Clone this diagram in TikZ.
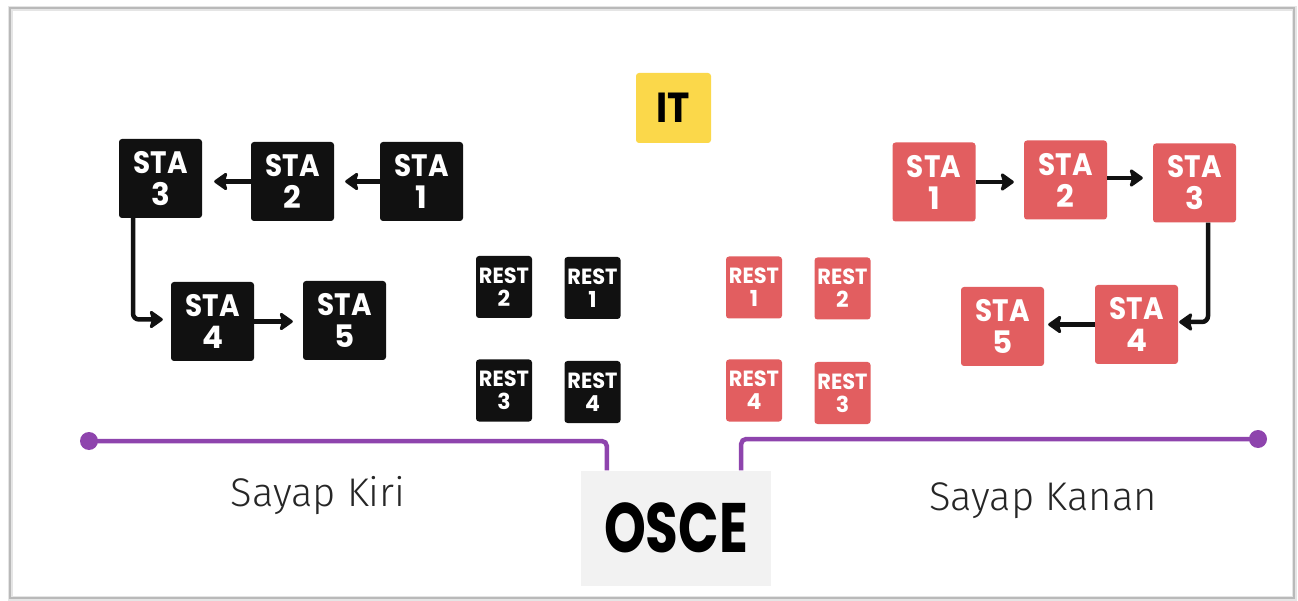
\documentclass[tikz,border=0pt]{standalone}
\usepackage{fontspec}
\usepackage{graphicx}
\usetikzlibrary{arrows.meta}
\newfontfamily\popfont{Poppins}
\newfontfamily\thinfont{Fira Sans Light}
\definecolor{stared}{RGB}{226,94,96}
\definecolor{itgold}{RGB}{251,216,74}
\definecolor{wingpurple}{RGB}{142,68,173}
\definecolor{oscegray}{RGB}{242,242,242}
\definecolor{boxblack}{RGB}{17,17,17}
\newcommand\stalabel[1]{\scalebox{0.9}[1]{STA}\\#1}
\newcommand\restlabel[1]{\scalebox{0.95}[1]{REST}\\#1}
\tikzset{
  stabox/.style={rounded corners=3pt, minimum width=83pt, minimum height=79pt,
    inner sep=0pt, align=center, text=white,
    font=\popfont\bfseries\fontsize{31}{32}\selectfont},
  darkbox/.style={fill=boxblack},
  redbox/.style={fill=stared},
  restbox/.style={rounded corners=3pt, minimum width=56pt, minimum height=62pt,
    inner sep=0pt, align=center, text=white,
    font=\popfont\bfseries\fontsize{22}{23}\selectfont},
  flow/.style={line width=4.5pt, draw=boxblack,
    -{Stealth[length=15pt,width=21pt,inset=3pt,round]}},
  wing/.style={line width=4.5pt, draw=wingpurple, rounded corners=5pt},
  wingdot/.style={circle, fill=wingpurple, minimum size=18pt, inner sep=0pt},
  winglabel/.style={anchor=base, text=black!85, font=\thinfont\fontsize{40}{44}\selectfont},
}
\begin{document}
\begin{tikzpicture}[x=1pt, y=-1pt]
\useasboundingbox (0,0) rectangle (1298,601);
\fill[white] (0,0) rectangle (1298,601);

% outer frame with a soft shadow
\draw[gray!20, line width=5pt] (10,9) rectangle (1294,598);
\draw[gray!55, line width=1.2pt] (10,8) rectangle (1294,598);

% IT
\node[fill=itgold, rounded corners=3pt, minimum width=75pt, minimum height=70pt,
  inner sep=0pt, font=\popfont\bfseries\fontsize{42}{44}\selectfont] (it) at (673.5,108) {\scalebox{0.9}[1]{IT}};

% left wing stations
\node[stabox, darkbox] (L3) at (160.5,178.5) {\stalabel{3}};
\node[stabox, darkbox] (L2) at (292.5,181.5) {\stalabel{2}};
\node[stabox, darkbox] (L1) at (421.5,181.5) {\stalabel{1}};
\node[stabox, darkbox] (L4) at (212.5,321.5) {\stalabel{4}};
\node[stabox, darkbox] (L5) at (344.5,320.5) {\stalabel{5}};

% right wing stations
\node[stabox, redbox] (R1) at (934,182) {\stalabel{1}};
\node[stabox, redbox] (R2) at (1065.5,180) {\stalabel{2}};
\node[stabox, redbox] (R3) at (1194.5,183) {\stalabel{3}};
\node[stabox, redbox] (R4) at (1136.5,324.5) {\stalabel{4}};
\node[stabox, redbox] (R5) at (1002.5,326.5) {\stalabel{5}};

% rest rooms
\node[restbox, darkbox] (LR2) at (504,287) {\restlabel{2}};
\node[restbox, darkbox] (LR1) at (592.5,288) {\restlabel{1}};
\node[restbox, darkbox] (LR3) at (504,390.5) {\restlabel{3}};
\node[restbox, darkbox] (LR4) at (592.5,392) {\restlabel{4}};
\node[restbox, redbox] (RR1) at (754,287.5) {\restlabel{1}};
\node[restbox, redbox] (RR2) at (842.5,288.5) {\restlabel{2}};
\node[restbox, redbox] (RR4) at (754,390.5) {\restlabel{4}};
\node[restbox, redbox] (RR3) at (842.5,393) {\restlabel{3}};

% left wing flow
\draw[flow, shorten >=11pt] (L1.west) -- (L1.west -| L2.east);
\draw[flow, shorten >=12pt] (L2.west) -- (L2.west -| L3.east);
\draw[flow, shorten >=8pt, rounded corners=6pt] ([xshift=-27.5pt]L3.south) |- ([yshift=2pt]L4.west);
\draw[flow, shorten >=10pt] (L4.east) -- (L4.east -| L5.west);

% right wing flow
\draw[flow, shorten >=10pt] (R1.east) -- (R1.east -| R2.west);
\draw[flow, shorten >=10pt] ([yshift=2pt]R2.east) -- ([yshift=2pt]R2.east -| R3.west);
\draw[flow, shorten >=1pt, rounded corners=6pt] ([xshift=13.5pt]R3.south) |- ([yshift=2.5pt]R4.east);
\draw[flow, shorten >=4pt] (R4.west) -- (R4.west -| R5.east);

% OSCE hub and the two wings
\node[fill=oscegray, minimum width=190pt, minimum height=115pt, inner sep=0pt,
  font=\popfont\bfseries\fontsize{70}{72}\selectfont] (osce) at (676,528) {\scalebox{0.76}[1]{OSCE}};
\node[wingdot] (ldot) at (89,441) {};
\node[wingdot] (rdot) at (1258,439) {};
\draw[wing] ([xshift=26pt]osce.north west) |- (ldot.center);
\draw[wing] ([xshift=-30pt]osce.north east) |- (rdot.center);

\node[winglabel] (kiri) at (318,506) {Sayap Kiri};
\node[winglabel] (kanan) at (1043,510) {Sayap Kanan};
\end{tikzpicture}
\end{document}
